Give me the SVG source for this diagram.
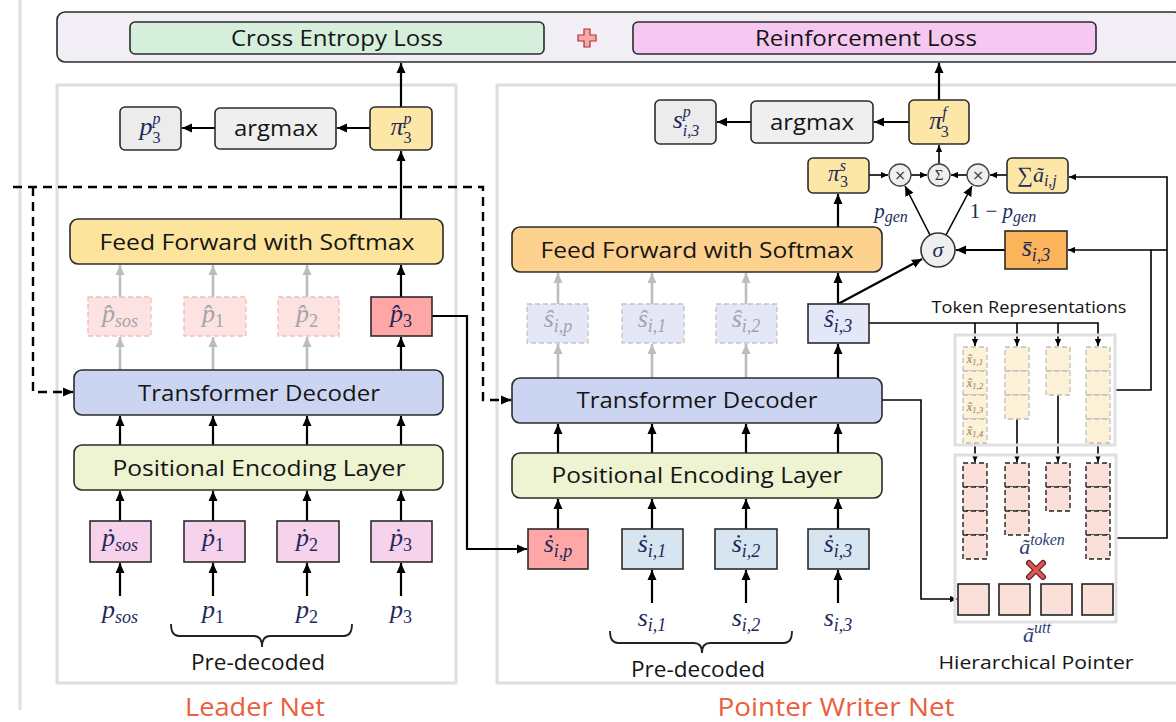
<svg xmlns="http://www.w3.org/2000/svg" width="1176" height="722" viewBox="0 0 1176 722">
<defs>
<marker id="ah" viewBox="0 0 10 10" refX="10" refY="5" markerWidth="10" markerHeight="10" markerUnits="userSpaceOnUse" orient="auto"><path d="M0,0.5 L10,5 L0,9.5 z" fill="#000"/></marker>
<marker id="ahg" viewBox="0 0 10 10" refX="10" refY="5" markerWidth="10" markerHeight="10" markerUnits="userSpaceOnUse" orient="auto"><path d="M0,0.5 L10,5 L0,9.5 z" fill="#bdbdbd"/></marker>
<marker id="ahs" viewBox="0 0 10 10" refX="10" refY="5" markerWidth="7" markerHeight="7" markerUnits="userSpaceOnUse" orient="auto"><path d="M0,0.5 L10,5 L0,9.5 z" fill="#000"/></marker>
</defs>
<style>
.lbl{font-family:"Open Sans","Noto Sans","DejaVu Sans",sans-serif;font-size:22px;fill:#151515;text-anchor:middle}
.m{font-family:"Liberation Serif","DejaVu Serif",serif;font-style:italic;font-size:26px;fill:#1d2a5a;text-anchor:middle}
.sp{font-size:16px}
.sb{font-size:18px}
.n{font-style:normal}
.gm{fill:#a3a3a8}
.b{stroke:#2b2b2b;stroke-width:1.6}
.c{fill:none;stroke:#000;stroke-width:2.2}
.cs{fill:none;stroke:#000;stroke-width:1.6}
.g{fill:none;stroke:#bdbdbd;stroke-width:2.6}
.d{fill:none;stroke:#000;stroke-width:2.4;stroke-dasharray:9 6}
.panel{fill:none;stroke:#dedede;stroke-width:3}
.title{font-family:"Open Sans","Noto Sans",sans-serif;font-size:25px;fill:#e8603c;text-anchor:middle}
.tok{fill:#fdf1d8;stroke:#bdbdbd;stroke-width:1.3;stroke-dasharray:5 3}
.att{fill:#fbe0d9;stroke:#222;stroke-width:1.4;stroke-dasharray:5 3}
.utt{fill:#fbe0d9;stroke:#222;stroke-width:1.6}
.circ{fill:#efefef;stroke:#444;stroke-width:1.3}
</style>

<!-- panels -->
<g id="panels">
<line x1="20" y1="0" x2="20" y2="710" stroke="#e0e0e0" stroke-width="3"/>
<rect class="panel" x="57" y="85" width="399" height="598"/>
<rect class="panel" x="497" y="85" width="690" height="598"/>
<text class="title" x="255" y="716" textLength="140" lengthAdjust="spacingAndGlyphs">Leader Net</text>
<text class="title" x="836" y="716" textLength="237" lengthAdjust="spacingAndGlyphs">Pointer Writer Net</text>
</g>

<!-- loss -->
<g id="loss">
<rect x="57" y="12" width="1125" height="50" rx="8" fill="#f2eef5" class="b"/>
<g id="ce-loss"><rect x="130" y="22" width="414" height="32" rx="5" fill="#d5efdc" class="b"/>
<text class="lbl" x="337" y="46" textLength="212" lengthAdjust="spacingAndGlyphs">Cross Entropy Loss</text></g>
<g id="plus"><path d="M584,29 H590 V35 H596 V41 H590 V47 H584 V41 H578 V35 H584 Z" fill="#f7a8a8" stroke="#b03030" stroke-width="1.2"/></g>
<g id="rl-loss"><rect x="633" y="22" width="463" height="32" rx="5" fill="#f6c8f1" class="b"/>
<text class="lbl" x="866" y="46" textLength="222" lengthAdjust="spacingAndGlyphs">Reinforcement Loss</text></g>
</g>

<!-- connectors -->
<g id="connectors">
<line class="c" x1="401" y1="107" x2="401" y2="63" marker-end="url(#ah)"/>
<line class="c" x1="370" y1="128" x2="337" y2="128" marker-end="url(#ah)"/>
<line class="c" x1="215" y1="128" x2="182" y2="128" marker-end="url(#ah)"/>
<line class="c" x1="401" y1="219" x2="401" y2="151" marker-end="url(#ah)"/>
<line class="g" x1="120" y1="297" x2="120" y2="265" marker-end="url(#ahg)"/>
<line class="g" x1="213" y1="297" x2="213" y2="265" marker-end="url(#ahg)"/>
<line class="g" x1="307" y1="297" x2="307" y2="265" marker-end="url(#ahg)"/>
<line class="c" x1="401" y1="297" x2="401" y2="265" marker-end="url(#ah)"/>
<line class="g" x1="120" y1="370" x2="120" y2="337" marker-end="url(#ahg)"/>
<line class="g" x1="213" y1="370" x2="213" y2="337" marker-end="url(#ahg)"/>
<line class="g" x1="307" y1="370" x2="307" y2="337" marker-end="url(#ahg)"/>
<line class="c" x1="401" y1="370" x2="401" y2="337" marker-end="url(#ah)"/>
<line class="c" x1="120" y1="445" x2="120" y2="416" marker-end="url(#ah)"/>
<line class="c" x1="213" y1="445" x2="213" y2="416" marker-end="url(#ah)"/>
<line class="c" x1="307" y1="445" x2="307" y2="416" marker-end="url(#ah)"/>
<line class="c" x1="401" y1="445" x2="401" y2="416" marker-end="url(#ah)"/>
<line class="c" x1="120" y1="521" x2="120" y2="491" marker-end="url(#ah)"/>
<line class="c" x1="213" y1="521" x2="213" y2="491" marker-end="url(#ah)"/>
<line class="c" x1="307" y1="521" x2="307" y2="491" marker-end="url(#ah)"/>
<line class="c" x1="401" y1="521" x2="401" y2="491" marker-end="url(#ah)"/>
<line class="c" x1="120" y1="596" x2="120" y2="563" marker-end="url(#ah)"/>
<line class="c" x1="213" y1="596" x2="213" y2="563" marker-end="url(#ah)"/>
<line class="c" x1="307" y1="596" x2="307" y2="563" marker-end="url(#ah)"/>
<line class="c" x1="401" y1="596" x2="401" y2="563" marker-end="url(#ah)"/>
<path class="d" d="M13,187 H483 V400 H511" marker-end="url(#ah)"/>
<path class="d" d="M33,187 V392 H73" marker-end="url(#ah)"/>
<path class="c" d="M432,316 H467 V549 H527" marker-end="url(#ah)"/>
<line class="c" x1="939" y1="100" x2="939" y2="63" marker-end="url(#ah)"/>
<line class="c" x1="909" y1="122" x2="874" y2="122" marker-end="url(#ah)"/>
<line class="c" x1="751" y1="122" x2="717" y2="122" marker-end="url(#ah)"/>
<line class="cs" x1="869" y1="175" x2="888" y2="175" marker-end="url(#ahs)"/>
<line class="cs" x1="911" y1="175" x2="927" y2="175" marker-end="url(#ahs)"/>
<line class="cs" x1="967" y1="175" x2="951" y2="175" marker-end="url(#ahs)"/>
<line class="cs" x1="1007" y1="175" x2="990" y2="175" marker-end="url(#ahs)"/>
<line class="cs" x1="939" y1="164" x2="939" y2="145" marker-end="url(#ahs)"/>
<line class="cs" x1="930" y1="235" x2="905" y2="186" marker-end="url(#ah)"/>
<line class="cs" x1="946" y1="235" x2="972" y2="186" marker-end="url(#ah)"/>
<line class="c" x1="1005" y1="250" x2="956" y2="250" marker-end="url(#ah)"/>
<line class="c" x1="838" y1="304" x2="922" y2="259" marker-end="url(#ah)"/>
<line class="c" x1="838" y1="227" x2="838" y2="194" marker-end="url(#ah)"/>
<line class="g" x1="558" y1="304" x2="558" y2="273" marker-end="url(#ahg)"/>
<line class="g" x1="652" y1="304" x2="652" y2="273" marker-end="url(#ahg)"/>
<line class="g" x1="746" y1="304" x2="746" y2="273" marker-end="url(#ahg)"/>
<line class="c" x1="838" y1="304" x2="838" y2="273" marker-end="url(#ah)"/>
<line class="g" x1="558" y1="378" x2="558" y2="344" marker-end="url(#ahg)"/>
<line class="g" x1="652" y1="378" x2="652" y2="344" marker-end="url(#ahg)"/>
<line class="g" x1="746" y1="378" x2="746" y2="344" marker-end="url(#ahg)"/>
<line class="c" x1="838" y1="378" x2="838" y2="344" marker-end="url(#ah)"/>
<line class="c" x1="558" y1="453" x2="558" y2="424" marker-end="url(#ah)"/>
<line class="c" x1="652" y1="453" x2="652" y2="424" marker-end="url(#ah)"/>
<line class="c" x1="746" y1="453" x2="746" y2="424" marker-end="url(#ah)"/>
<line class="c" x1="838" y1="453" x2="838" y2="424" marker-end="url(#ah)"/>
<line class="c" x1="558" y1="529" x2="558" y2="499" marker-end="url(#ah)"/>
<line class="c" x1="652" y1="529" x2="652" y2="499" marker-end="url(#ah)"/>
<line class="c" x1="746" y1="529" x2="746" y2="499" marker-end="url(#ah)"/>
<line class="c" x1="838" y1="529" x2="838" y2="499" marker-end="url(#ah)"/>
<line class="c" x1="652" y1="603" x2="652" y2="570" marker-end="url(#ah)"/>
<line class="c" x1="746" y1="603" x2="746" y2="570" marker-end="url(#ah)"/>
<line class="c" x1="838" y1="603" x2="838" y2="570" marker-end="url(#ah)"/>
<path class="cs" d="M869,323 H1098 V346" marker-end="url(#ahs)"/>
<line class="cs" x1="975" y1="323" x2="975" y2="346" marker-end="url(#ahs)"/>
<line class="cs" x1="1017" y1="323" x2="1017" y2="346" marker-end="url(#ahs)"/>
<line class="cs" x1="1058" y1="323" x2="1058" y2="346" marker-end="url(#ahs)"/>
<line class="cs" x1="975" y1="443" x2="975" y2="462" marker-end="url(#ahs)"/>
<line class="cs" x1="1017" y1="419" x2="1017" y2="462" marker-end="url(#ahs)"/>
<line class="cs" x1="1058" y1="395" x2="1058" y2="462" marker-end="url(#ahs)"/>
<line class="cs" x1="1098" y1="443" x2="1098" y2="462" marker-end="url(#ahs)"/>
<path class="cs" d="M882,400 H921 V599 H957" marker-end="url(#ahs)"/>
<path class="cs" d="M1116,390 H1151 V250 H1068" marker-end="url(#ahs)"/>
<line class="cs" x1="1151" y1="250" x2="1167" y2="250"/>
<path class="cs" d="M1116,538 H1167 V177 H1069" marker-end="url(#ahs)"/>
</g>

<!-- ===== Leader Net nodes ===== -->
<g id="lp-pp"><rect x="120" y="107" width="61" height="43" rx="5" fill="#ececec" class="b"/>
<text class="m" x="150" y="135">p<tspan class="sp" dy="-11">p</tspan><tspan class="sp n" dx="-8" dy="19">3</tspan></text></g>
<g id="l-argmax"><rect x="215" y="108" width="121" height="41" rx="5" fill="#efefef" class="b"/>
<text class="lbl" x="276" y="136" textLength="84" lengthAdjust="spacingAndGlyphs">argmax</text></g>
<g id="l-pi"><rect x="370" y="107" width="62" height="43" rx="5" fill="#fde7a6" class="b"/>
<text class="m" x="401" y="135">&#x3C0;<tspan class="sp" dy="-11">p</tspan><tspan class="sp n" dx="-8" dy="19">3</tspan></text></g>

<g id="l-ff"><rect x="70" y="219" width="373" height="45" rx="8" fill="#fde49c" class="b"/>
<text class="lbl" x="257" y="250" textLength="315" lengthAdjust="spacingAndGlyphs">Feed Forward with Softmax</text></g>

<g id="l-phat-sos"><rect x="88" y="297" width="63" height="39" fill="#fde2e2" stroke="#f3bcbc" stroke-width="1.3" stroke-dasharray="5 3"/>
<text class="m gm" x="120" y="322">p&#x302;<tspan class="sb" dy="5">sos</tspan></text></g>
<g id="l-phat-1"><rect x="184" y="297" width="62" height="39" fill="#fde2e2" stroke="#f3bcbc" stroke-width="1.3" stroke-dasharray="5 3"/>
<text class="m gm" x="213" y="322">p&#x302;<tspan class="sb n" dy="5">1</tspan></text></g>
<g id="l-phat-2"><rect x="278" y="297" width="61" height="39" fill="#fde2e2" stroke="#f3bcbc" stroke-width="1.3" stroke-dasharray="5 3"/>
<text class="m gm" x="307" y="322">p&#x302;<tspan class="sb n" dy="5">2</tspan></text></g>
<g id="l-phat-3"><rect x="371" y="297" width="61" height="39" fill="#ffa7a7" class="b"/>
<text class="m" x="401" y="322">p&#x302;<tspan class="sb n" dy="5">3</tspan></text></g>

<g id="l-td"><rect x="74" y="370" width="369" height="45" rx="8" fill="#cbd5f2" class="b"/>
<text class="lbl" x="259" y="401" textLength="242" lengthAdjust="spacingAndGlyphs">Transformer Decoder</text></g>
<g id="l-pe"><rect x="74" y="445" width="369" height="45" rx="8" fill="#eef3d1" class="b"/>
<text class="lbl" x="259" y="476" textLength="293" lengthAdjust="spacingAndGlyphs">Positional Encoding Layer</text></g>

<g id="l-pdot-sos"><rect x="90" y="521" width="61" height="41" fill="#f6d2ec" class="b"/>
<text class="m" x="120" y="546">&#x1E57;<tspan class="sb" dy="5">sos</tspan></text></g>
<g id="l-pdot-1"><rect x="184" y="521" width="61" height="41" fill="#f6d2ec" class="b"/>
<text class="m" x="213" y="546">&#x1E57;<tspan class="sb n" dy="5">1</tspan></text></g>
<g id="l-pdot-2"><rect x="277" y="521" width="62" height="41" fill="#f6d2ec" class="b"/>
<text class="m" x="307" y="546">&#x1E57;<tspan class="sb n" dy="5">2</tspan></text></g>
<g id="l-pdot-3"><rect x="371" y="521" width="61" height="41" fill="#f6d2ec" class="b"/>
<text class="m" x="401" y="546">&#x1E57;<tspan class="sb n" dy="5">3</tspan></text></g>

<g id="l-inputs">
<text class="m" x="120" y="618">p<tspan class="sb" dy="5">sos</tspan></text>
<text class="m" x="213" y="618">p<tspan class="sb n" dy="5">1</tspan></text>
<text class="m" x="307" y="618">p<tspan class="sb n" dy="5">2</tspan></text>
<text class="m" x="401" y="618">p<tspan class="sb n" dy="5">3</tspan></text>
<path d="M171,624 Q171,636 179,636 H254 Q262,636 262,647 Q262,636 270,636 H344 Q352,636 352,624" fill="none" stroke="#222" stroke-width="1.8"/>
<text class="lbl" x="258" y="670" textLength="134" lengthAdjust="spacingAndGlyphs">Pre-decoded</text>
</g>

<!-- ===== Pointer Writer Net nodes ===== -->
<g id="r-sp"><rect x="655" y="100" width="61" height="44" rx="5" fill="#ececec" class="b"/>
<text class="m" x="686" y="128">s<tspan class="sp" dy="-11">p</tspan><tspan class="sp" dx="-8" dy="19">i,3</tspan></text></g>
<g id="r-argmax"><rect x="751" y="101" width="122" height="42" rx="5" fill="#efefef" class="b"/>
<text class="lbl" x="812" y="130" textLength="84" lengthAdjust="spacingAndGlyphs">argmax</text></g>
<g id="r-pif"><rect x="909" y="100" width="60" height="44" rx="5" fill="#fde7a6" class="b"/>
<text class="m" x="939" y="129">&#x3C0;<tspan class="sp" dy="-11">f</tspan><tspan class="sp n" dx="-6" dy="19">3</tspan></text></g>

<g id="r-pis"><rect x="808" y="158" width="61" height="35" rx="5" fill="#fde7a6" class="b"/>
<text class="m" x="838" y="181" style="font-size:23px">&#x3C0;<tspan class="sp" dy="-10">s</tspan><tspan class="sp n" dx="-6" dy="16">3</tspan></text></g>
<g id="r-mul1"><circle class="circ" cx="900" cy="175" r="11"/><text x="900" y="180" text-anchor="middle" font-family="DejaVu Sans,sans-serif" font-size="14" fill="#333">&#xD7;</text></g>
<g id="r-sum"><circle class="circ" cx="939" cy="175" r="11"/><text x="939" y="180" text-anchor="middle" font-family="Liberation Serif,serif" font-size="15" fill="#333">&#x3A3;</text></g>
<g id="r-mul2"><circle class="circ" cx="978" cy="175" r="11"/><text x="978" y="180" text-anchor="middle" font-family="DejaVu Sans,sans-serif" font-size="14" fill="#333">&#xD7;</text></g>
<g id="r-suma"><rect x="1007" y="158" width="61" height="35" rx="5" fill="#fde7a6" class="b"/>
<text class="m" x="1037" y="182" style="font-size:22px"><tspan class="n">&#x2211;</tspan>&#xE3;<tspan class="sp" dy="4">i,j</tspan></text></g>

<g id="r-sigma"><circle class="circ" cx="938" cy="250" r="17" style="stroke:#333;stroke-width:1.6"/>
<text class="m" x="938" y="257" style="font-size:22px">&#x3C3;</text></g>
<g id="r-sbar"><rect x="1005" y="231" width="62" height="38" fill="#fbb45a" class="b"/>
<text class="m" x="1036" y="256">s&#x304;<tspan class="sb" dy="5">i,3</tspan></text></g>
<g id="r-gates">
<text class="m" x="891" y="218" style="font-size:21px">p<tspan class="sp" dy="4">gen</tspan></text>
<text class="m" x="1003" y="218" style="font-size:21px"><tspan class="n">1 &#x2212; </tspan>p<tspan class="sp" dy="4">gen</tspan></text>
</g>

<g id="r-ff"><rect x="512" y="227" width="370" height="45" rx="8" fill="#fcd28e" class="b"/>
<text class="lbl" x="697" y="258" textLength="313" lengthAdjust="spacingAndGlyphs">Feed Forward with Softmax</text></g>

<g id="r-shat-p"><rect x="527" y="304" width="61" height="39" fill="#e3e7f8" stroke="#c4c4c4" stroke-width="1.3" stroke-dasharray="5 3"/>
<text class="m gm" x="558" y="327">&#x15D;<tspan class="sb" dy="5">i,p</tspan></text></g>
<g id="r-shat-1"><rect x="622" y="304" width="62" height="39" fill="#e3e7f8" stroke="#c4c4c4" stroke-width="1.3" stroke-dasharray="5 3"/>
<text class="m gm" x="652" y="327">&#x15D;<tspan class="sb" dy="5">i,1</tspan></text></g>
<g id="r-shat-2"><rect x="716" y="304" width="61" height="39" fill="#e3e7f8" stroke="#c4c4c4" stroke-width="1.3" stroke-dasharray="5 3"/>
<text class="m gm" x="746" y="327">&#x15D;<tspan class="sb" dy="5">i,2</tspan></text></g>
<g id="r-shat-3"><rect x="808" y="304" width="61" height="39" fill="#e3e7f8" class="b"/>
<text class="m" x="838" y="327">&#x15D;<tspan class="sb" dy="5">i,3</tspan></text></g>

<g id="r-td"><rect x="512" y="378" width="370" height="45" rx="8" fill="#cbd5f2" class="b"/>
<text class="lbl" x="697" y="408" textLength="241" lengthAdjust="spacingAndGlyphs">Transformer Decoder</text></g>
<g id="r-pe"><rect x="512" y="453" width="370" height="45" rx="8" fill="#eef3d1" class="b"/>
<text class="lbl" x="697" y="483" textLength="291" lengthAdjust="spacingAndGlyphs">Positional Encoding Layer</text></g>

<g id="r-sdot-p"><rect x="528" y="529" width="60" height="40" fill="#ffa7a7" class="b"/>
<text class="m" x="558" y="552">&#x1E61;<tspan class="sb" dy="5">i,p</tspan></text></g>
<g id="r-sdot-1"><rect x="622" y="529" width="61" height="40" fill="#d6e5ef" class="b"/>
<text class="m" x="652" y="552">&#x1E61;<tspan class="sb" dy="5">i,1</tspan></text></g>
<g id="r-sdot-2"><rect x="715" y="529" width="62" height="40" fill="#d6e5ef" class="b"/>
<text class="m" x="746" y="552">&#x1E61;<tspan class="sb" dy="5">i,2</tspan></text></g>
<g id="r-sdot-3"><rect x="808" y="529" width="61" height="40" fill="#d6e5ef" class="b"/>
<text class="m" x="838" y="552">&#x1E61;<tspan class="sb" dy="5">i,3</tspan></text></g>

<g id="r-inputs">
<text class="m" x="652" y="626">s<tspan class="sb" dy="5">i,1</tspan></text>
<text class="m" x="746" y="626">s<tspan class="sb" dy="5">i,2</tspan></text>
<text class="m" x="838" y="626">s<tspan class="sb" dy="5">i,3</tspan></text>
<path d="M610,631 Q610,643 618,643 H694 Q702,643 702,653 Q702,643 710,643 H784 Q792,643 792,631" fill="none" stroke="#222" stroke-width="1.8"/>
<text class="lbl" x="698" y="677" textLength="134" lengthAdjust="spacingAndGlyphs">Pre-decoded</text>
</g>

<!-- token representations -->
<g id="token-reps">
<text class="lbl" x="1029" y="313" style="font-size:16px" textLength="195" lengthAdjust="spacingAndGlyphs">Token Representations</text>
<rect x="955" y="335" width="160" height="110" fill="none" stroke="#e0e0e0" stroke-width="3"/>
<rect class="tok" x="963" y="347" width="24" height="24"/><rect class="tok" x="963" y="371" width="24" height="24"/><rect class="tok" x="963" y="395" width="24" height="24"/><rect class="tok" x="963" y="419" width="24" height="24"/>
<rect class="tok" x="1005" y="347" width="24" height="24"/><rect class="tok" x="1005" y="371" width="24" height="24"/><rect class="tok" x="1005" y="395" width="24" height="24"/>
<rect class="tok" x="1046" y="347" width="24" height="24"/><rect class="tok" x="1046" y="371" width="24" height="24"/>
<rect class="tok" x="1086" y="347" width="24" height="24"/><rect class="tok" x="1086" y="371" width="24" height="24"/><rect class="tok" x="1086" y="395" width="24" height="24"/><rect class="tok" x="1086" y="419" width="24" height="24"/>
<g font-family="Liberation Serif,serif" font-style="italic" font-size="12" fill="#8a7a5a" text-anchor="middle">
<text x="975" y="363">x&#x303;<tspan font-size="9" dy="2">1,1</tspan></text>
<text x="975" y="387">x&#x303;<tspan font-size="9" dy="2">1,2</tspan></text>
<text x="975" y="411">x&#x303;<tspan font-size="9" dy="2">1,3</tspan></text>
<text x="975" y="435">x&#x303;<tspan font-size="9" dy="2">1,4</tspan></text>
</g>
</g>

<!-- hierarchical pointer -->
<g id="hier-pointer">
<rect x="955" y="455" width="161" height="167" fill="none" stroke="#e0e0e0" stroke-width="3"/>
<rect class="att" x="963" y="463" width="24" height="24"/><rect class="att" x="963" y="487" width="24" height="24"/><rect class="att" x="963" y="511" width="24" height="24"/><rect class="att" x="963" y="535" width="24" height="24"/>
<rect class="att" x="1005" y="463" width="24" height="24"/><rect class="att" x="1005" y="487" width="24" height="24"/><rect class="att" x="1005" y="511" width="24" height="24"/>
<rect class="att" x="1046" y="463" width="24" height="24"/><rect class="att" x="1046" y="487" width="24" height="24"/>
<rect class="att" x="1086" y="463" width="24" height="24"/><rect class="att" x="1086" y="487" width="24" height="24"/><rect class="att" x="1086" y="511" width="24" height="24"/><rect class="att" x="1086" y="535" width="24" height="24"/>
<text class="m" x="1042" y="554" style="font-size:22px;fill:#2b3d75">&#xE3;<tspan class="sp" dy="-9">token</tspan></text>
<path d="M1029,563 L1043,577 M1043,563 L1029,577" stroke="#5a2020" stroke-width="6" stroke-linecap="round"/>
<path d="M1029,563 L1043,577 M1043,563 L1029,577" stroke="#e05555" stroke-width="3.6" stroke-linecap="round"/>
<rect class="utt" x="958" y="584" width="31" height="31"/>
<rect class="utt" x="999" y="584" width="31" height="31"/>
<rect class="utt" x="1041" y="584" width="31" height="31"/>
<rect class="utt" x="1082" y="584" width="31" height="31"/>
<text class="m" x="1037" y="642" style="font-size:22px;fill:#2b3d75">&#xE3;<tspan class="sp" dy="-9">utt</tspan></text>
<text class="lbl" x="1036" y="669" style="font-size:19px" textLength="195" lengthAdjust="spacingAndGlyphs">Hierarchical Pointer</text>
</g>
</svg>
